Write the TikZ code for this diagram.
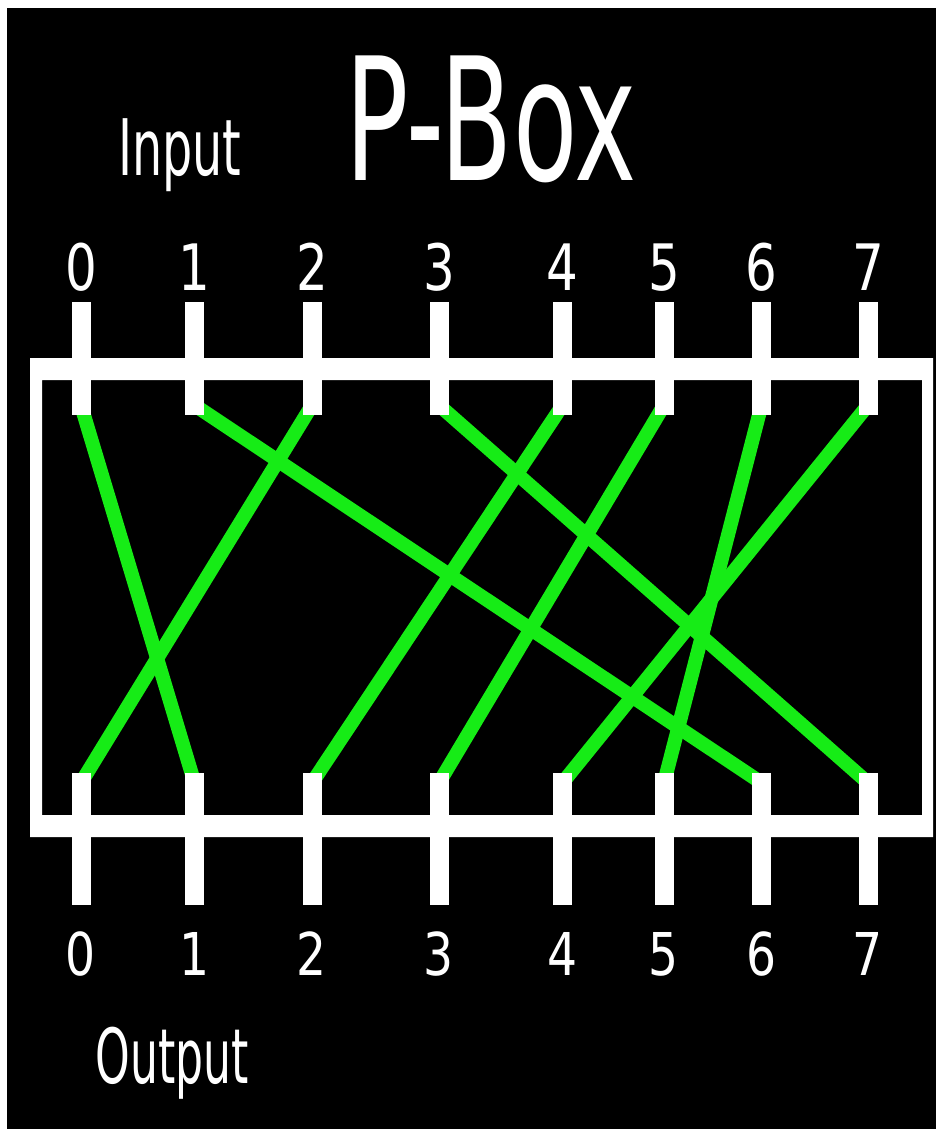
\documentclass[tikz,border=0pt]{standalone}
\usepackage{fontspec}
\setmainfont{DejaVu Sans}
\usetikzlibrary{backgrounds}
\definecolor{wiregreen}{RGB}{22,236,22}

\begin{document}
\begin{tikzpicture}[
    x=1pt, y={(0pt,-1pt)},
    lead/.style={
        fill=white,
        inner sep=0pt,
        minimum width=19pt
    },
    inlead/.style={lead, minimum height=113pt},
    outlead/.style={lead, minimum height=132pt},
    wire/.style={draw=wiregreen, line width=14pt},
    digit/.style={
        text=white,
        anchor=base,
        inner sep=0pt,
        font=\fontsize{64}{64}\selectfont
    },
    word/.style={
        text=white,
        anchor=base,
        inner sep=0pt,
        font=\fontsize{78}{78}\selectfont
    },
    title/.style={
        text=white,
        anchor=base,
        inner sep=0pt,
        font=\fontsize{171}{171}\selectfont
    }
]
    \useasboundingbox (0,0) rectangle (935,1129);

    \node[title] (pbox) at (491,180) {\scalebox{0.615}[1]{P-Box}};
    \node[word] (input) at (180,175) {\scalebox{0.61}[1]{Input}};
    \node[word, font=\fontsize{76}{76}\selectfont] (output) at (172,1083) {\scalebox{0.58}[1]{Output}};

    % leads and numbers
    \foreach \n/\px in {0/81,1/194.5,2/312,3/439,4/562.5,5/664,6/761.5,7/868} {
        \node[inlead] (in\n) at (\px,358.5) {};
        \node[outlead] (out\n) at (\px,839) {};
        \node[digit] (innum\n) at (\px,290) {\scalebox{0.78}[1]{\n}};
        \node[digit, font=\fontsize{59}{59}\selectfont] (outnum\n) at (\px,975) {\scalebox{0.8}[1]{\n}};
    }

    \begin{scope}[on background layer]
        \fill[white] (0,0) rectangle (935,1129);
        \fill[black] (7,8) rectangle (935.5,1129.5);
        % box frame
        \fill[white, even odd rule] (30,358) rectangle (933,837)
            (42,380) rectangle (922,815);
        % permutation wires
        \foreach \i/\o in {0/1,1/6,2/0,3/7,4/2,5/3,6/5,7/4}
            \draw[wire] ([yshift=10pt]in\i.south) -- ([yshift=-10pt]out\o.north);
    \end{scope}
\end{tikzpicture}
\end{document}
